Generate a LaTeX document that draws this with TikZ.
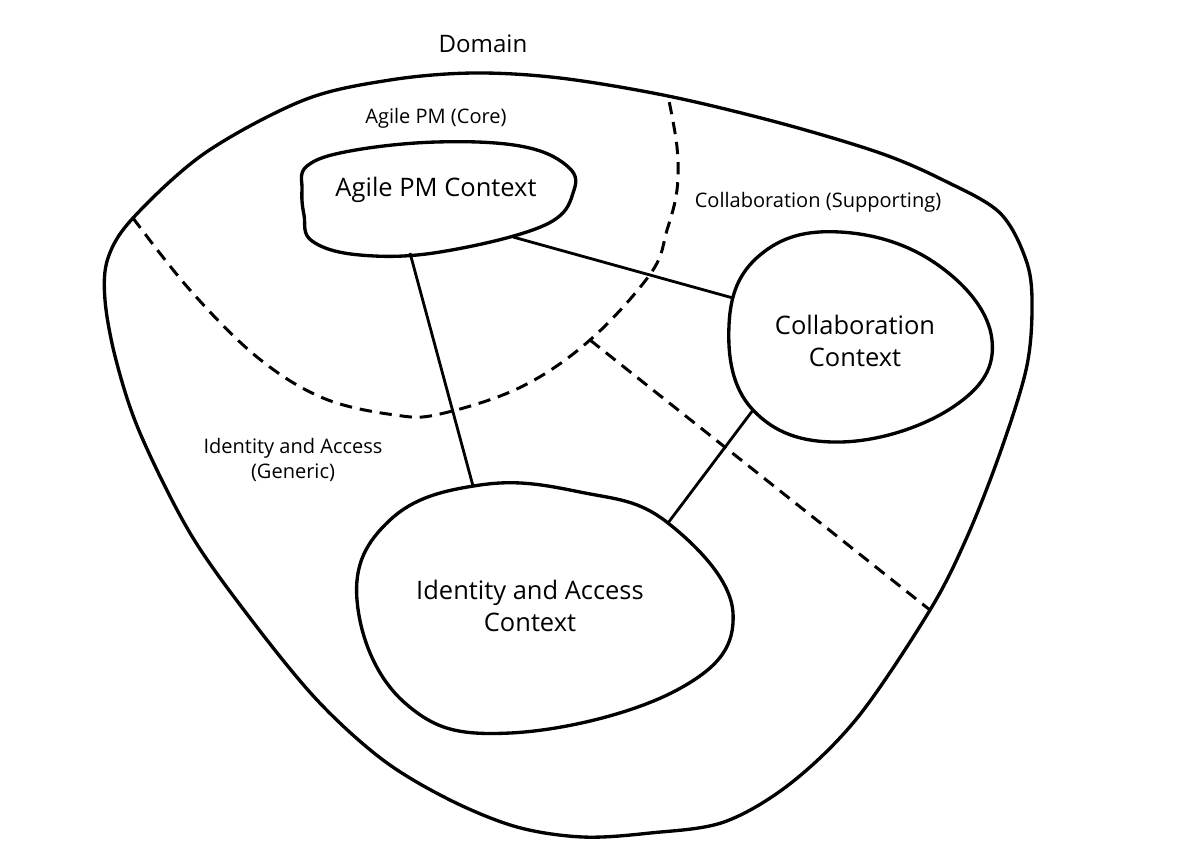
\documentclass[tikz,border=0pt]{standalone}
\usepackage{fontspec}
\setmainfont{Open Sans}
\usepackage{tikz}
\tikzset{
  outline/.style={line width=1.9pt, line join=round},
  link/.style={line width=1.6pt},
  split/.style={line width=1.7pt, dash pattern=on 7pt off 4.5pt},
  area/.style={font=\fontsize{11.4}{14.7}\selectfont, align=center},
  ctx/.style={font=\fontsize{14.5}{18}\selectfont, align=center}
}

\begin{document}
\begin{tikzpicture}[x=0.02cm,y=-0.02cm]
  \useasboundingbox (0,0) rectangle (1182,850);
  % domain
  \draw[outline] plot[smooth cycle, tension=0.55] coordinates {
    (473,73) (560,78) (668,96) (780,123) (880,153) (943,180) (1000,213)
    (1027,263) (1032,310) (1026,370) (1000,453) (967,537) (930,610)
    (858,717) (791,783) (724,822) (650,833) (583,837) (517,827)
    (450,800) (383,760) (317,700) (250,618) (190,533) (140,433)
    (116,360) (105,300) (108,258) (133,218) (205,153) (304,100) (390,80)};
  \node[font=\fontsize{13.7}{16}\selectfont] (domain) at (483,44) {Domain};
  % subdomain borders
  \draw[split] plot[smooth, tension=0.6] coordinates {
    (133,218) (190,290) (257,357) (323,398) (395,415) (440,414)
    (521,387) (590,340) (651,273) (667,230) (677,190) (677,147) (668,96)};
  \coordinate (cut0) at (590,340);
  \coordinate (cut1) at (930,610);
  \draw[split] (cut0) -- (cut1);
  \node[area] (core) at (436,118) {Agile PM (Core)};
  \node[area] (supp) at (818,202) {Collaboration (Supporting)};
  \node[area] (gen) at (293,460) {Identity and Access\\(Generic)};
  % bounded contexts
  \draw[outline] plot[smooth cycle, tension=0.65] coordinates {
    (307,166) (350,151) (436,142) (520,146) (566,165) (574,190)
    (545,225) (440,252) (360,255) (312,241) (304,215) (302,190)};
  \node[ctx] (agile) at (436,190) {Agile PM Context};
  \draw[outline] plot[smooth cycle, tension=0.7] coordinates {
    (729,325) (760,255) (840,232) (938,265) (992,340) (953,407)
    (840,442) (753,410)};
  \node[ctx] (collab) at (855,341) {Collaboration\\Context};
  \draw[outline] plot[smooth cycle, tension=0.7] coordinates {
    (357,600) (390,520) (480,485) (580,492) (668,523) (733,613)
    (677,690) (510,733) (405,703)};
  \node[ctx] (ident) at (530,606) {Identity and Access\\Context};
  % context map
  \coordinate (agile-s) at (410,253);
  \coordinate (agile-e) at (513,237);
  \coordinate (collab-w) at (733,298);
  \coordinate (collab-sw) at (753,410);
  \coordinate (ident-n) at (473,486);
  \coordinate (ident-ne) at (668,523);
  \draw[link] (agile-s) -- (ident-n);
  \draw[link] (agile-e) -- (collab-w);
  \draw[link] (collab-sw) -- (ident-ne);
\end{tikzpicture}
\end{document}
